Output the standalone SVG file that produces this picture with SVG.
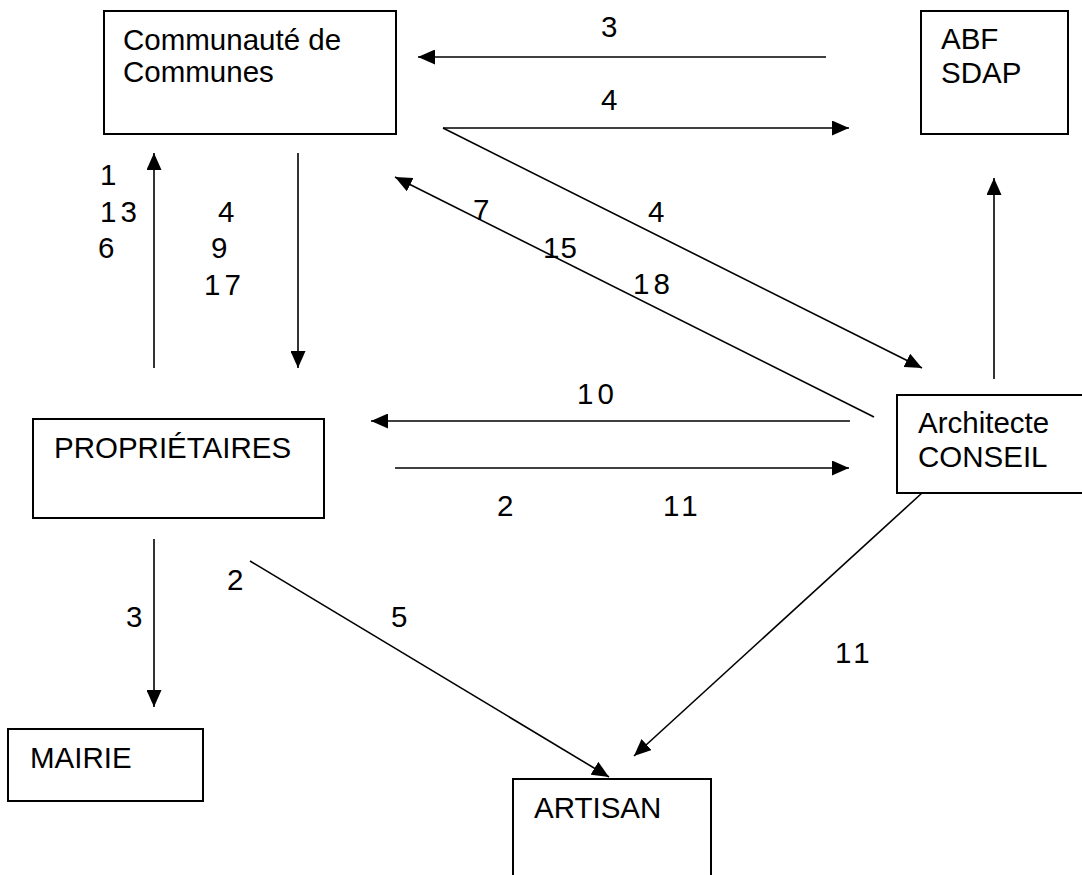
<svg xmlns="http://www.w3.org/2000/svg" width="1082" height="875" viewBox="0 0 1082 875">
<style>
text{font-family:"Liberation Sans",Arial,sans-serif;font-size:29.5px;fill:#000}
.box{fill:#fff;stroke:#000;stroke-width:2}
.c line{stroke:#000;stroke-width:1.6}
.a{marker-end:url(#ah)}
.n2{letter-spacing:4px}
</style>
<defs>
<marker id="ah" markerUnits="userSpaceOnUse" markerWidth="17" markerHeight="15" refX="17" refY="7.5" orient="auto" viewBox="0 0 17 15">
<path d="M0,0 L17,7.5 L0,15 z" fill="#000"/>
</marker>
</defs>
<rect width="1082" height="875" fill="#fff"/>
<g id="communaute"><rect class="box" x="104" y="11" width="292" height="123"/><text x="123" y="50">Communauté de</text><text x="123" y="82">Communes</text></g>
<g id="abf"><rect class="box" x="921" y="11" width="147" height="123"/><text x="941" y="49">ABF</text><text x="941" y="83">SDAP</text></g>
<g id="proprietaires"><rect class="box" x="33" y="419" width="291" height="99"/><text x="54" y="458">PROPRIÉTAIRES</text></g>
<g id="architecte"><rect class="box" x="897" y="395" width="195" height="98"/><text x="918" y="433">Architecte</text><text x="918" y="467">CONSEIL</text></g>
<g id="mairie"><rect class="box" x="8" y="729" width="195" height="72"/><text x="30" y="768">MAIRIE</text></g>
<g id="artisan"><rect class="box" x="513" y="779" width="198" height="110"/><text x="534" y="818">ARTISAN</text></g>
<g id="connectors" class="c">
<line class="a" x1="826" y1="57" x2="418" y2="57"/>
<line class="a" x1="443" y1="128" x2="849" y2="128"/>
<line class="a" x1="443" y1="128" x2="922" y2="368"/>
<line class="a" x1="874" y1="417" x2="395" y2="177"/>
<line class="a" x1="994" y1="379" x2="994" y2="178"/>
<line class="a" x1="154" y1="368" x2="154" y2="153"/>
<line class="a" x1="298" y1="153" x2="298" y2="368"/>
<line class="a" x1="850" y1="421" x2="371" y2="421"/>
<line class="a" x1="395" y1="468" x2="849" y2="468"/>
<line class="a" x1="154" y1="539" x2="154" y2="707"/>
<line class="a" x1="250" y1="561" x2="609" y2="777"/>
<line class="a" x1="922" y1="493" x2="634" y2="756"/>
</g>
<g id="labels">
<text x="601" y="37">3</text>
<text x="601" y="110">4</text>
<text x="648" y="222">4</text>
<text x="100" y="185">1</text>
<text class="n2" x="100" y="222">13</text>
<text x="98" y="258">6</text>
<text x="218" y="222">4</text>
<text x="211" y="258">9</text>
<text class="n2" x="204" y="295">17</text>
<text x="473" y="220">7</text>
<text x="543" y="258" style="letter-spacing:1px">15</text>
<text class="n2" x="633" y="294">18</text>
<text class="n2" x="577" y="404">10</text>
<text x="497" y="516">2</text>
<text class="n2" x="663" y="516">11</text>
<text x="126" y="627">3</text>
<text x="227" y="590">2</text>
<text x="391" y="627">5</text>
<text class="n2" x="835" y="663">11</text>
</g>
</svg>
